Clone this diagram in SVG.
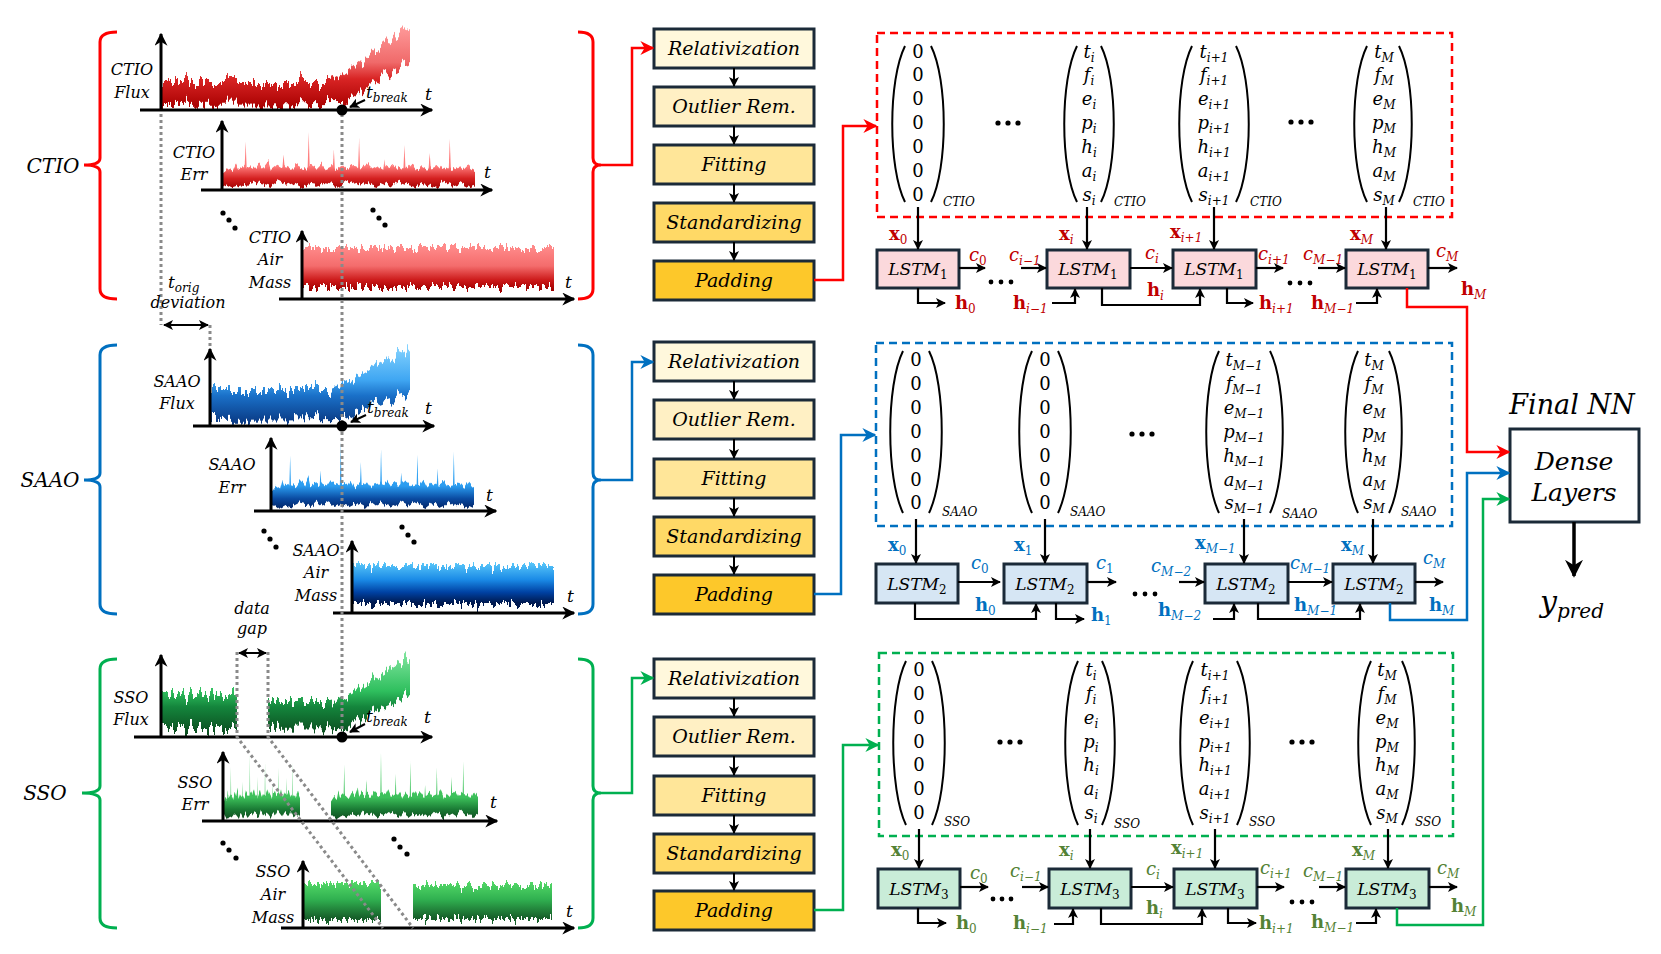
<svg xmlns="http://www.w3.org/2000/svg" xmlns:xlink="http://www.w3.org/1999/xlink" width="1661" height="954" viewBox="0 0 1661 954">
<style>
.t{font-family:"DejaVu Serif","Liberation Serif",serif;font-style:italic;fill:#000}
.lb{font-size:16px;text-anchor:middle}
.big{font-size:20px;text-anchor:middle}
.tt{font-size:17px}
.bx{font-size:19px;text-anchor:middle}
.v{font-size:18px;text-anchor:middle}
.vs{font-size:12px}
.sb{font-size:12px}
.up{font-style:normal}
.ax{stroke:#000;stroke-width:3;fill:none}
.dt{stroke:#8a8a8a;stroke-width:3;stroke-dasharray:3 3;fill:none}
.pb{stroke:#1b2a38;stroke-width:3}
.k{stroke:#000;stroke-width:2.2;fill:none}
.par{stroke:#000;stroke-width:2;fill:none}
.R{fill:#c00000}.B{fill:#0070c0}.G{fill:#548235}
.bf{font-weight:bold;font-style:normal}
.cl{font-size:18px}
.lstm{font-size:17px;text-anchor:middle}
</style>
<defs>
<marker id="ak" viewBox="0 0 10 10" refX="9" refY="5" markerWidth="10" markerHeight="10" markerUnits="userSpaceOnUse" orient="auto-start-reverse"><path d="M0,0 L10,5 L0,10 L2.5,5 z" fill="#000"/></marker>
<marker id="aax" viewBox="0 0 10 10" refX="9" refY="5" markerWidth="13" markerHeight="13" markerUnits="userSpaceOnUse" orient="auto"><path d="M0,0 L10,5 L0,10 L3,5 z" fill="#000"/></marker>
<marker id="ar" viewBox="0 0 10 10" refX="9" refY="5" markerWidth="14" markerHeight="14" markerUnits="userSpaceOnUse" orient="auto"><path d="M0,0 L10,5 L0,10 L3,5 z" fill="#ff0000"/></marker>
<marker id="ab" viewBox="0 0 10 10" refX="9" refY="5" markerWidth="14" markerHeight="14" markerUnits="userSpaceOnUse" orient="auto"><path d="M0,0 L10,5 L0,10 L3,5 z" fill="#0070c0"/></marker>
<marker id="ag" viewBox="0 0 10 10" refX="9" refY="5" markerWidth="14" markerHeight="14" markerUnits="userSpaceOnUse" orient="auto"><path d="M0,0 L10,5 L0,10 L3,5 z" fill="#00b050"/></marker>
<marker id="abig" viewBox="0 0 10 10" refX="9" refY="5" markerWidth="18" markerHeight="18" markerUnits="userSpaceOnUse" orient="auto"><path d="M0,0 L10,5 L0,10 L3,5 z" fill="#000"/></marker>
<linearGradient id="rF" gradientUnits="userSpaceOnUse" x1="0" y1="25" x2="0" y2="108"><stop offset="0" stop-color="#ff9c9c"/><stop offset="0.45" stop-color="#f06a6a"/><stop offset="0.65" stop-color="#d82424"/><stop offset="1" stop-color="#a80000"/></linearGradient>
<linearGradient id="bF" gradientUnits="userSpaceOnUse" x1="0" y1="345" x2="0" y2="423"><stop offset="0" stop-color="#86d4ff"/><stop offset="0.45" stop-color="#3fa6f2"/><stop offset="0.65" stop-color="#1a70c8"/><stop offset="1" stop-color="#0a3a84"/></linearGradient>
<linearGradient id="gF" gradientUnits="userSpaceOnUse" x1="0" y1="655" x2="0" y2="735"><stop offset="0" stop-color="#7be39a"/><stop offset="0.45" stop-color="#2fbf5e"/><stop offset="0.65" stop-color="#14853c"/><stop offset="1" stop-color="#0b4a1e"/></linearGradient>
<linearGradient id="rM" x1="0" y1="0" x2="0" y2="1"><stop offset="0.2" stop-color="#ff8a8a"/><stop offset="0.5" stop-color="#f46c6c"/><stop offset="0.72" stop-color="#cc1a1a"/><stop offset="0.88" stop-color="#a00000"/></linearGradient>
<linearGradient id="bM" x1="0" y1="0" x2="0" y2="1"><stop offset="0.2" stop-color="#5ac8fa"/><stop offset="0.48" stop-color="#1a8ae6"/><stop offset="0.68" stop-color="#0042a4"/><stop offset="0.85" stop-color="#001a50"/></linearGradient>
<linearGradient id="gM" x1="0" y1="0" x2="0" y2="1"><stop offset="0.25" stop-color="#54da68"/><stop offset="0.55" stop-color="#30b050"/><stop offset="0.85" stop-color="#17602a"/></linearGradient>
<linearGradient id="rE" x1="0" y1="0" x2="0" y2="1"><stop offset="0" stop-color="#ff9a9a"/><stop offset="0.7" stop-color="#ff7a7a"/><stop offset="0.86" stop-color="#d42020"/><stop offset="1" stop-color="#a00000"/></linearGradient>
<linearGradient id="bE" x1="0" y1="0" x2="0" y2="1"><stop offset="0" stop-color="#5cc4ff"/><stop offset="0.7" stop-color="#2a9cf0"/><stop offset="0.86" stop-color="#0a4aa0"/><stop offset="1" stop-color="#002060"/></linearGradient>
<linearGradient id="gE" x1="0" y1="0" x2="0" y2="1"><stop offset="0" stop-color="#62e07c"/><stop offset="0.7" stop-color="#3cc05a"/><stop offset="0.86" stop-color="#1a7a34"/><stop offset="1" stop-color="#0f4a1e"/></linearGradient>
<filter id="fz" x="-2%" y="-45%" width="104%" height="190%" color-interpolation-filters="sRGB">
<feTurbulence type="fractalNoise" baseFrequency="0.28 0.006" numOctaves="3" seed="7" result="n"/>
<feColorMatrix in="n" type="matrix" values="0 0 0 0 0.5  0 1 0 0 0  0 0 0 0 0  0 0 0 0 1" result="m"/>
<feDisplacementMap in="SourceGraphic" in2="m" scale="28" xChannelSelector="R" yChannelSelector="G"/>
</filter>
<filter id="fa" x="-2%" y="-45%" width="104%" height="190%" color-interpolation-filters="sRGB">
<feTurbulence type="fractalNoise" baseFrequency="0.35 0.05" numOctaves="3" seed="11" result="n"/>
<feColorMatrix in="n" type="matrix" values="0 0 0 0 0.5  0 1 0 0 0  0 0 0 0 0  0 0 0 0 1" result="m"/>
<feDisplacementMap in="SourceGraphic" in2="m" scale="20" xChannelSelector="R" yChannelSelector="G"/>
</filter>
<filter id="fe" x="-2%" y="-20%" width="104%" height="140%" color-interpolation-filters="sRGB">
<feTurbulence type="fractalNoise" baseFrequency="0.4 0.006" numOctaves="2" seed="3" result="n"/>
<feColorMatrix in="n" type="matrix" values="0 0 0 0 0.5  0 1 0 0 0  0 0 0 0 0  0 0 0 0 1" result="m"/>
<feDisplacementMap in="SourceGraphic" in2="m" scale="10" xChannelSelector="R" yChannelSelector="G"/>
</filter>
<symbol id="nB" viewBox="0 -30 100 42" preserveAspectRatio="none"><path d="M0,0 L2,-3 4,-1 5,-6 6,-2 8,-4 8.6,-3 9,-22 9.4,-3 10,-3 12,-1 14,-5 16,-2 18,-7 19,-1 21,-4 23,-2 23.6,-3 24,-12 24.4,-3 25,-3 27,-1 29,-5 31,-3 33,-2 33.6,-3 34,-30 34.4,-4 35,-4 37,-2 39,-6 41,-1 43,-3 43.6,-3 44,-16 44.4,-2 45,-2 47,-5 49,-1 51,-4 53,-2 53.6,-3 54,-25 54.4,-3 55,-3 57,-6 59,-2 61,-4 63,-1 63.6,-2 64,-10 64.4,-3 65,-3 67,-5 69,-2 71,-3 71.6,-3 72,-20 72.4,-2 73,-2 75,-6 77,-1 79,-4 81,-2 81.6,-3 82,-14 82.4,-3 83,-3 85,-5 87,-1 89,-3 89.6,-3 90,-24 90.4,-2 91,-2 93,-4 95,-1 97,-5 99,-2 100,-1 L100,10 97,12 94,9 91,11 88,8 85,12 82,10 79,9 76,12 73,10 70,8 67,11 64,9 61,12 58,10 55,9 52,11 49,8 46,12 43,10 40,9 37,11 34,10 31,12 28,9 25,11 22,8 19,12 16,10 13,9 10,11 7,10 4,12 1,9 0,10 Z"/></symbol>
<mask id="dm" maskUnits="userSpaceOnUse" x="0" y="0" width="1661" height="954">
<g fill="#fff">
<path filter="url(#fz)" d="M162,82 L330,82 C345,78 370,50 410,26 L410,62 C390,72 365,86 345,104 L162,105 Z"/>
<use href="#nB" x="223" y="132" width="252" height="55" filter="url(#fe)"/>
<rect filter="url(#fa)" x="303" y="248" width="251" height="39"/>
<path filter="url(#fz)" d="M211,389 L330,389 C345,386 372,366 410,347 L410,392 C392,398 365,408 345,418 L211,419 Z"/>
<use href="#nB" x="272" y="442" width="202" height="66" filter="url(#fe)"/>
<rect filter="url(#fa)" x="353" y="566" width="201" height="38"/>
<path filter="url(#fz)" d="M162,695 H237 V729 H162 Z"/>
<path filter="url(#fz)" d="M268,702 L330,702 C345,699 372,678 410,657 L410,693 C392,700 365,712 345,728 L268,729 Z"/>
<use href="#nB" x="224" y="753" width="76" height="65" filter="url(#fe)"/>
<use href="#nB" x="331" y="753" width="147" height="65" filter="url(#fe)"/>
<rect filter="url(#fa)" x="304" y="884" width="77" height="36"/>
<rect filter="url(#fa)" x="413" y="885" width="139" height="34"/>
</g>
</mask>
<clipPath id="cb"><rect x="355" y="700" width="52" height="40"/></clipPath>
</defs>
<rect width="1661" height="954" fill="#fff"/>

<!-- ===== plot data (noisy series) ===== -->
<g id="plot-data" mask="url(#dm)">
<rect x="162" y="12" width="270" height="97" fill="url(#rF)"/>
<rect x="223" y="114" width="270" height="75" fill="url(#rE)"/>
<rect x="303" y="234" width="271" height="64" fill="url(#rM)"/>
<rect x="211" y="333" width="222" height="92" fill="url(#bF)"/>
<rect x="272" y="430" width="224" height="80" fill="url(#bE)"/>
<rect x="353" y="550" width="221" height="62" fill="url(#bM)"/>
<rect x="162" y="642" width="270" height="94" fill="url(#gF)"/>
<rect x="224" y="745" width="273" height="75" fill="url(#gE)"/>
<rect x="304" y="866" width="270" height="61" fill="url(#gM)"/>
</g>

<!-- ===== CTIO ===== -->
<g id="ctio-bracket-left"><path d="M117,32 Q100,32 100,42 L100,158 Q100,165 84,165 Q100,165 100,172 L100,289 Q100,299 117,299" fill="none" stroke="#ff0000" stroke-width="3"/><text class="t big" x="53" y="173">CTIO</text></g>
<g id="ctio-bracket-right"><path d="M578,32 Q593,32 593,42 L593,158 Q593,165 601,165 Q593,165 593,172 L593,289 Q593,299 578,299" fill="none" stroke="#ff0000" stroke-width="3"/></g>
<g id="ctio-flux">
<path class="ax" d="M161,110 V34" marker-end="url(#aax)"/><path class="ax" d="M140,110 H432" marker-end="url(#aax)"/>
<text class="t lb" x="132" y="75">CTIO</text><text class="t lb" x="132" y="98">Flux</text>
<text class="t tt" x="425" y="100">t</text>
<text class="t tt" x="366" y="98">t<tspan class="sb" dy="4">break</tspan></text>
<path d="M365,100 L350,107" stroke="#000" stroke-width="2" marker-end="url(#ak)"/>
</g>
<g id="ctio-err">
<path class="ax" d="M222,190 V121" marker-end="url(#aax)"/><path class="ax" d="M201,190 H492" marker-end="url(#aax)"/>
<text class="t lb" x="194" y="158">CTIO</text><text class="t lb" x="194" y="180">Err</text>
<text class="t tt" x="484" y="178">t</text>
</g>
<g id="ctio-air">
<path class="ax" d="M302,299 V231" marker-end="url(#aax)"/><path class="ax" d="M279,299 H574" marker-end="url(#aax)"/>
<text class="t lb" x="270" y="243">CTIO</text><text class="t lb" x="270" y="265">Air</text><text class="t lb" x="270" y="288">Mass</text>
<text class="t tt" x="565" y="288">t</text>
</g>
<g id="ctio-dots"><circle cx="223" cy="213" r="2.6"/><circle cx="229" cy="220" r="2.6"/><circle cx="235" cy="228" r="2.6"/><circle cx="373" cy="210" r="2.6"/><circle cx="379" cy="218" r="2.6"/><circle cx="385" cy="225" r="2.6"/></g>

<!-- ===== SAAO ===== -->
<g id="saao-bracket-left"><path d="M117,345 Q100,345 100,355 L100,473 Q100,480 84,480 Q100,480 100,487 L100,604 Q100,614 117,614" fill="none" stroke="#0070c0" stroke-width="3"/><text class="t big" x="50" y="487">SAAO</text></g>
<g id="saao-bracket-right"><path d="M578,345 Q593,345 593,355 L593,473 Q593,480 601,480 Q593,480 593,487 L593,604 Q593,614 578,614" fill="none" stroke="#0070c0" stroke-width="3"/></g>
<g id="saao-flux">
<path class="ax" d="M210,426 V349" marker-end="url(#aax)"/><path class="ax" d="M193,426 H434" marker-end="url(#aax)"/>
<text class="t lb" x="177" y="387">SAAO</text><text class="t lb" x="177" y="409">Flux</text>
<text class="t tt" x="425" y="414">t</text>
<text class="t tt" x="367" y="413">t<tspan class="sb" dy="4">break</tspan></text>
<path d="M366,415 L351,422" stroke="#000" stroke-width="2" marker-end="url(#ak)"/>
</g>
<g id="saao-err">
<path class="ax" d="M271,511 V438" marker-end="url(#aax)"/><path class="ax" d="M254,511 H496" marker-end="url(#aax)"/>
<text class="t lb" x="232" y="470">SAAO</text><text class="t lb" x="232" y="493">Err</text>
<text class="t tt" x="486" y="501">t</text>
</g>
<g id="saao-air">
<path class="ax" d="M352,613 V541" marker-end="url(#aax)"/><path class="ax" d="M333,613 H574" marker-end="url(#aax)"/>
<text class="t lb" x="316" y="556">SAAO</text><text class="t lb" x="316" y="578">Air</text><text class="t lb" x="316" y="601">Mass</text>
<text class="t tt" x="567" y="602">t</text>
</g>
<g id="saao-dots"><circle cx="264" cy="531" r="2.6"/><circle cx="270" cy="539" r="2.6"/><circle cx="276" cy="547" r="2.6"/><circle cx="402" cy="527" r="2.6"/><circle cx="408" cy="535" r="2.6"/><circle cx="414" cy="542" r="2.6"/></g>

<!-- ===== SSO ===== -->
<g id="sso-bracket-left"><path d="M117,659 Q100,659 100,669 L100,786 Q100,793 82,793 Q100,793 100,800 L100,918 Q100,928 117,928" fill="none" stroke="#00b050" stroke-width="3"/><text class="t big" x="45" y="800">SSO</text></g>
<g id="sso-bracket-right"><path d="M578,659 Q593,659 593,669 L593,786 Q593,793 601,793 Q593,793 593,800 L593,918 Q593,928 578,928" fill="none" stroke="#00b050" stroke-width="3"/></g>
<g id="sso-flux">
<path class="ax" d="M161,737 V655" marker-end="url(#aax)"/><path class="ax" d="M134,737 H432" marker-end="url(#aax)"/>
<text class="t lb" x="131" y="703">SSO</text><text class="t lb" x="131" y="725">Flux</text>
<text class="t tt" x="424" y="723">t</text>
<text class="t tt" x="366" y="722" clip-path="url(#cb)">t<tspan class="sb" dy="4">break</tspan></text>
<path d="M365,724 L350,732" stroke="#000" stroke-width="2" marker-end="url(#ak)"/>
</g>
<g id="sso-err">
<path class="ax" d="M223,821 V752" marker-end="url(#aax)"/><path class="ax" d="M202,821 H497" marker-end="url(#aax)"/>
<text class="t lb" x="195" y="788">SSO</text><text class="t lb" x="195" y="810">Err</text>
<text class="t tt" x="490" y="808">t</text>
</g>
<g id="sso-air">
<path class="ax" d="M303,928 V861" marker-end="url(#aax)"/><path class="ax" d="M281,928 H574" marker-end="url(#aax)"/>
<text class="t lb" x="273" y="877">SSO</text><text class="t lb" x="273" y="900">Air</text><text class="t lb" x="273" y="923">Mass</text>
<text class="t tt" x="566" y="917">t</text>
</g>
<g id="sso-dots"><circle cx="223" cy="843" r="2.6"/><circle cx="229" cy="850" r="2.6"/><circle cx="236" cy="858" r="2.6"/><circle cx="394" cy="839" r="2.6"/><circle cx="400" cy="847" r="2.6"/><circle cx="407" cy="854" r="2.6"/></g>

<!-- guides -->
<g id="guides">
<path class="dt" d="M161,114 V325"/>
<path class="dt" d="M210,325 V348"/>
<path class="dt" d="M342,114 V737"/>
<path class="dt" d="M237,652 V737 L383,928"/>
<path class="dt" d="M268,652 V737 L413,928"/>
<circle cx="342" cy="110" r="5.5"/><circle cx="342" cy="426" r="5.5"/><circle cx="342" cy="737" r="5.5"/>
<path d="M164,325 H208" stroke="#000" stroke-width="2" marker-start="url(#ak)" marker-end="url(#ak)"/>
<path d="M239,653 H266" stroke="#000" stroke-width="2" marker-start="url(#ak)" marker-end="url(#ak)"/>
<text class="t tt" x="168" y="288">t<tspan class="sb" dy="4">orig</tspan></text>
<text class="t lb" x="188" y="308">deviation</text>
<text class="t lb" x="252" y="614">data</text>
<text class="t lb" x="252" y="634">gap</text>
</g>

<!-- ===== preprocessing boxes ===== -->
<g id="ctio-relativization"><rect class="pb" x="654" y="29" width="160" height="39" fill="#fff8dc"/><text class="t bx" x="734" y="55">Relativization</text></g>
<g id="ctio-outlier"><rect class="pb" x="654" y="87" width="160" height="39" fill="#fff0c4"/><text class="t bx" x="734" y="113">Outlier Rem.</text></g>
<g id="ctio-fitting"><rect class="pb" x="654" y="145" width="160" height="39" fill="#ffe699"/><text class="t bx" x="734" y="171">Fitting</text></g>
<g id="ctio-standardizing"><rect class="pb" x="654" y="203" width="160" height="39" fill="#ffd966"/><text class="t bx" x="734" y="229">Standardizing</text></g>
<g id="ctio-padding"><rect class="pb" x="654" y="261" width="160" height="39" fill="#fdc82a"/><text class="t bx" x="734" y="287">Padding</text></g>

<g id="saao-relativization"><rect class="pb" x="654" y="342" width="160" height="39" fill="#fff8dc"/><text class="t bx" x="734" y="368">Relativization</text></g>
<g id="saao-outlier"><rect class="pb" x="654" y="400" width="160" height="39" fill="#fff0c4"/><text class="t bx" x="734" y="426">Outlier Rem.</text></g>
<g id="saao-fitting"><rect class="pb" x="654" y="459" width="160" height="39" fill="#ffe699"/><text class="t bx" x="734" y="485">Fitting</text></g>
<g id="saao-standardizing"><rect class="pb" x="654" y="517" width="160" height="39" fill="#ffd966"/><text class="t bx" x="734" y="543">Standardizing</text></g>
<g id="saao-padding"><rect class="pb" x="654" y="575" width="160" height="39" fill="#fdc82a"/><text class="t bx" x="734" y="601">Padding</text></g>

<g id="sso-relativization"><rect class="pb" x="654" y="659" width="160" height="39" fill="#fff8dc"/><text class="t bx" x="734" y="685">Relativization</text></g>
<g id="sso-outlier"><rect class="pb" x="654" y="717" width="160" height="39" fill="#fff0c4"/><text class="t bx" x="734" y="743">Outlier Rem.</text></g>
<g id="sso-fitting"><rect class="pb" x="654" y="776" width="160" height="39" fill="#ffe699"/><text class="t bx" x="734" y="802">Fitting</text></g>
<g id="sso-standardizing"><rect class="pb" x="654" y="834" width="160" height="39" fill="#ffd966"/><text class="t bx" x="734" y="860">Standardizing</text></g>
<g id="sso-padding"><rect class="pb" x="654" y="891" width="160" height="39" fill="#fdc82a"/><text class="t bx" x="734" y="917">Padding</text></g>

<!-- ===== dashed input boxes with vectors ===== -->
<g id="ctio-inputs">
<rect x="877" y="33" width="575" height="184" fill="none" stroke="#ff0000" stroke-width="2.5" stroke-dasharray="8 5"/>
<path class="par" d="M905,46 C888,80 888,168 905,202 M931,46 C948,80 948,168 931,202"/>
<g class="t v up"><text x="918" y="58">0</text><text x="918" y="81">0</text><text x="918" y="105">0</text><text x="918" y="129">0</text><text x="918" y="153">0</text><text x="918" y="177">0</text><text x="918" y="201">0</text></g>
<text class="t vs" x="943" y="206">CTIO</text>
<circle cx="998" cy="123" r="2.6"/><circle cx="1008" cy="123" r="2.6"/><circle cx="1018" cy="123" r="2.6"/>
<path class="par" d="M1077,46 C1060,80 1060,168 1077,202 M1101,46 C1118,80 1118,168 1101,202"/>
<g class="t v"><text x="1089" y="58">t<tspan class="sb" dy="4">i</tspan></text><text x="1089" y="81">f<tspan class="sb" dy="4">i</tspan></text><text x="1089" y="105">e<tspan class="sb" dy="4">i</tspan></text><text x="1089" y="129">p<tspan class="sb" dy="4">i</tspan></text><text x="1089" y="153">h<tspan class="sb" dy="4">i</tspan></text><text x="1089" y="177">a<tspan class="sb" dy="4">i</tspan></text><text x="1089" y="201">s<tspan class="sb" dy="4">i</tspan></text></g>
<text class="t vs" x="1114" y="206">CTIO</text>
<path class="par" d="M1192,46 C1175,80 1175,168 1192,202 M1236,46 C1253,80 1253,168 1236,202"/>
<g class="t v"><text x="1214" y="58">t<tspan class="sb" dy="4">i+1</tspan></text><text x="1214" y="81">f<tspan class="sb" dy="4">i+1</tspan></text><text x="1214" y="105">e<tspan class="sb" dy="4">i+1</tspan></text><text x="1214" y="129">p<tspan class="sb" dy="4">i+1</tspan></text><text x="1214" y="153">h<tspan class="sb" dy="4">i+1</tspan></text><text x="1214" y="177">a<tspan class="sb" dy="4">i+1</tspan></text><text x="1214" y="201">s<tspan class="sb" dy="4">i+1</tspan></text></g>
<text class="t vs" x="1250" y="206">CTIO</text>
<circle cx="1291" cy="122" r="2.6"/><circle cx="1301" cy="122" r="2.6"/><circle cx="1311" cy="122" r="2.6"/>
<path class="par" d="M1367,46 C1350,80 1350,168 1367,202 M1399,46 C1416,80 1416,168 1399,202"/>
<g class="t v"><text x="1384" y="58">t<tspan class="sb" dy="4">M</tspan></text><text x="1384" y="81">f<tspan class="sb" dy="4">M</tspan></text><text x="1384" y="105">e<tspan class="sb" dy="4">M</tspan></text><text x="1384" y="129">p<tspan class="sb" dy="4">M</tspan></text><text x="1384" y="153">h<tspan class="sb" dy="4">M</tspan></text><text x="1384" y="177">a<tspan class="sb" dy="4">M</tspan></text><text x="1384" y="201">s<tspan class="sb" dy="4">M</tspan></text></g>
<text class="t vs" x="1413" y="206">CTIO</text>
</g>

<g id="saao-inputs">
<rect x="876" y="343" width="576" height="183" fill="none" stroke="#0070c0" stroke-width="2.5" stroke-dasharray="8 5"/>
<path class="par" d="M903,351 C886,385 886,478 903,513 M929,351 C946,385 946,478 929,513"/>
<g class="t v up"><text x="916" y="366">0</text><text x="916" y="390">0</text><text x="916" y="414">0</text><text x="916" y="438">0</text><text x="916" y="462">0</text><text x="916" y="486">0</text><text x="916" y="509">0</text></g>
<text class="t vs" x="942" y="516">SAAO</text>
<path class="par" d="M1032,351 C1015,385 1015,478 1032,513 M1058,351 C1075,385 1075,478 1058,513"/>
<g class="t v up"><text x="1045" y="366">0</text><text x="1045" y="390">0</text><text x="1045" y="414">0</text><text x="1045" y="438">0</text><text x="1045" y="462">0</text><text x="1045" y="486">0</text><text x="1045" y="509">0</text></g>
<text class="t vs" x="1070" y="516">SAAO</text>
<circle cx="1132" cy="434" r="2.6"/><circle cx="1142" cy="434" r="2.6"/><circle cx="1152" cy="434" r="2.6"/>
<path class="par" d="M1219,351 C1202,385 1202,478 1219,513 M1270,351 C1287,385 1287,478 1270,513"/>
<g class="t v"><text x="1244" y="366">t<tspan class="sb" dy="4">M−1</tspan></text><text x="1244" y="390">f<tspan class="sb" dy="4">M−1</tspan></text><text x="1244" y="414">e<tspan class="sb" dy="4">M−1</tspan></text><text x="1244" y="438">p<tspan class="sb" dy="4">M−1</tspan></text><text x="1244" y="462">h<tspan class="sb" dy="4">M−1</tspan></text><text x="1244" y="486">a<tspan class="sb" dy="4">M−1</tspan></text><text x="1244" y="509">s<tspan class="sb" dy="4">M−1</tspan></text></g>
<text class="t vs" x="1282" y="518">SAAO</text>
<path class="par" d="M1358,351 C1341,385 1341,478 1358,513 M1389,351 C1406,385 1406,478 1389,513"/>
<g class="t v"><text x="1374" y="366">t<tspan class="sb" dy="4">M</tspan></text><text x="1374" y="390">f<tspan class="sb" dy="4">M</tspan></text><text x="1374" y="414">e<tspan class="sb" dy="4">M</tspan></text><text x="1374" y="438">p<tspan class="sb" dy="4">M</tspan></text><text x="1374" y="462">h<tspan class="sb" dy="4">M</tspan></text><text x="1374" y="486">a<tspan class="sb" dy="4">M</tspan></text><text x="1374" y="509">s<tspan class="sb" dy="4">M</tspan></text></g>
<text class="t vs" x="1401" y="516">SAAO</text>
</g>

<g id="sso-inputs">
<rect x="879" y="653" width="574" height="183" fill="none" stroke="#00b050" stroke-width="2.5" stroke-dasharray="8 5"/>
<path class="par" d="M906,661 C889,695 889,790 906,825 M932,661 C949,695 949,790 932,825"/>
<g class="t v up"><text x="919" y="676">0</text><text x="919" y="700">0</text><text x="919" y="724">0</text><text x="919" y="748">0</text><text x="919" y="771">0</text><text x="919" y="795">0</text><text x="919" y="819">0</text></g>
<text class="t vs" x="944" y="826">SSO</text>
<circle cx="1000" cy="742" r="2.6"/><circle cx="1010" cy="742" r="2.6"/><circle cx="1020" cy="742" r="2.6"/>
<path class="par" d="M1078,661 C1061,695 1061,790 1078,825 M1102,661 C1119,695 1119,790 1102,825"/>
<g class="t v"><text x="1091" y="676">t<tspan class="sb" dy="4">i</tspan></text><text x="1091" y="700">f<tspan class="sb" dy="4">i</tspan></text><text x="1091" y="724">e<tspan class="sb" dy="4">i</tspan></text><text x="1091" y="748">p<tspan class="sb" dy="4">i</tspan></text><text x="1091" y="771">h<tspan class="sb" dy="4">i</tspan></text><text x="1091" y="795">a<tspan class="sb" dy="4">i</tspan></text><text x="1091" y="819">s<tspan class="sb" dy="4">i</tspan></text></g>
<text class="t vs" x="1114" y="828">SSO</text>
<path class="par" d="M1193,661 C1176,695 1176,790 1193,825 M1237,661 C1254,695 1254,790 1237,825"/>
<g class="t v"><text x="1215" y="676">t<tspan class="sb" dy="4">i+1</tspan></text><text x="1215" y="700">f<tspan class="sb" dy="4">i+1</tspan></text><text x="1215" y="724">e<tspan class="sb" dy="4">i+1</tspan></text><text x="1215" y="748">p<tspan class="sb" dy="4">i+1</tspan></text><text x="1215" y="771">h<tspan class="sb" dy="4">i+1</tspan></text><text x="1215" y="795">a<tspan class="sb" dy="4">i+1</tspan></text><text x="1215" y="819">s<tspan class="sb" dy="4">i+1</tspan></text></g>
<text class="t vs" x="1249" y="826">SSO</text>
<circle cx="1292" cy="742" r="2.6"/><circle cx="1302" cy="742" r="2.6"/><circle cx="1312" cy="742" r="2.6"/>
<path class="par" d="M1371,661 C1354,695 1354,790 1371,825 M1402,661 C1419,695 1419,790 1402,825"/>
<g class="t v"><text x="1387" y="676">t<tspan class="sb" dy="4">M</tspan></text><text x="1387" y="700">f<tspan class="sb" dy="4">M</tspan></text><text x="1387" y="724">e<tspan class="sb" dy="4">M</tspan></text><text x="1387" y="748">p<tspan class="sb" dy="4">M</tspan></text><text x="1387" y="771">h<tspan class="sb" dy="4">M</tspan></text><text x="1387" y="795">a<tspan class="sb" dy="4">M</tspan></text><text x="1387" y="819">s<tspan class="sb" dy="4">M</tspan></text></g>
<text class="t vs" x="1415" y="826">SSO</text>
</g>

<!-- ===== LSTM cells ===== -->
<g id="lstm1-0"><rect class="pb" x="877" y="250" width="82" height="38" fill="#fbd9dc"/><text class="t lstm" x="918" y="275">LSTM<tspan class="sb up" dy="4">1</tspan></text></g>
<g id="lstm1-i"><rect class="pb" x="1047" y="250" width="83" height="38" fill="#fbd9dc"/><text class="t lstm" x="1088" y="275">LSTM<tspan class="sb up" dy="4">1</tspan></text></g>
<g id="lstm1-i1"><rect class="pb" x="1173" y="250" width="83" height="38" fill="#fbd9dc"/><text class="t lstm" x="1214" y="275">LSTM<tspan class="sb up" dy="4">1</tspan></text></g>
<g id="lstm1-M"><rect class="pb" x="1346" y="250" width="82" height="38" fill="#fbd9dc"/><text class="t lstm" x="1387" y="275">LSTM<tspan class="sb up" dy="4">1</tspan></text></g>

<g id="lstm2-0"><rect class="pb" x="876" y="564" width="82" height="39" fill="#d6e6f4"/><text class="t lstm" x="917" y="590">LSTM<tspan class="sb up" dy="4">2</tspan></text></g>
<g id="lstm2-1"><rect class="pb" x="1004" y="564" width="83" height="39" fill="#d6e6f4"/><text class="t lstm" x="1045" y="590">LSTM<tspan class="sb up" dy="4">2</tspan></text></g>
<g id="lstm2-M1"><rect class="pb" x="1205" y="564" width="83" height="39" fill="#d6e6f4"/><text class="t lstm" x="1246" y="590">LSTM<tspan class="sb up" dy="4">2</tspan></text></g>
<g id="lstm2-M"><rect class="pb" x="1333" y="564" width="82" height="39" fill="#d6e6f4"/><text class="t lstm" x="1374" y="590">LSTM<tspan class="sb up" dy="4">2</tspan></text></g>

<g id="lstm3-0"><rect class="pb" x="878" y="869" width="82" height="39" fill="#c9ecd8"/><text class="t lstm" x="919" y="895">LSTM<tspan class="sb up" dy="4">3</tspan></text></g>
<g id="lstm3-i"><rect class="pb" x="1049" y="869" width="82" height="39" fill="#c9ecd8"/><text class="t lstm" x="1090" y="895">LSTM<tspan class="sb up" dy="4">3</tspan></text></g>
<g id="lstm3-i1"><rect class="pb" x="1174" y="869" width="83" height="39" fill="#c9ecd8"/><text class="t lstm" x="1215" y="895">LSTM<tspan class="sb up" dy="4">3</tspan></text></g>
<g id="lstm3-M"><rect class="pb" x="1346" y="869" width="83" height="39" fill="#c9ecd8"/><text class="t lstm" x="1387" y="895">LSTM<tspan class="sb up" dy="4">3</tspan></text></g>

<!-- ===== Final NN ===== -->
<g id="final-nn">
<text class="t" x="1572" y="414" font-size="27" text-anchor="middle">Final NN</text>
<rect x="1510" y="429" width="129" height="93" fill="#fff" stroke="#1b2a38" stroke-width="3"/>
<text class="t" x="1574" y="470" font-size="25" text-anchor="middle">Dense</text>
<text class="t" x="1574" y="501" font-size="25" text-anchor="middle">Layers</text>
</g>
<g id="ypred"><text class="t" x="1540" y="612" font-size="30">y<tspan font-size="20" dy="6">pred</tspan></text></g>

<!-- ===== connectors ===== -->
<g id="connectors">
<g stroke="#000" stroke-width="2" fill="none" marker-end="url(#ak)">
<path d="M734,68 V86"/><path d="M734,126 V144"/><path d="M734,184 V202"/><path d="M734,242 V260"/>
<path d="M734,381 V399"/><path d="M734,439 V458"/><path d="M734,498 V516"/><path d="M734,556 V574"/>
<path d="M734,698 V716"/><path d="M734,756 V775"/><path d="M734,815 V833"/><path d="M734,873 V890"/>
</g>
<path d="M601,165 H632 V48 H653" fill="none" stroke="#ff0000" stroke-width="2.5" marker-end="url(#ar)"/>
<path d="M814,280 H843 V126 H876" fill="none" stroke="#ff0000" stroke-width="2.5" marker-end="url(#ar)"/>
<path d="M601,480 H632 V362 H653" fill="none" stroke="#0070c0" stroke-width="2.5" marker-end="url(#ab)"/>
<path d="M814,594 H841 V435 H875" fill="none" stroke="#0070c0" stroke-width="2.5" marker-end="url(#ab)"/>
<path d="M601,793 H632 V678 H653" fill="none" stroke="#00b050" stroke-width="2.5" marker-end="url(#ag)"/>
<path d="M814,910 H843 V745 H878" fill="none" stroke="#00b050" stroke-width="2.5" marker-end="url(#ag)"/>
<path d="M1407,288 V307 H1467 V452 H1509" fill="none" stroke="#ff0000" stroke-width="2.5" marker-end="url(#ar)"/>
<path d="M1390,603 V620 H1467 V473 H1509" fill="none" stroke="#0070c0" stroke-width="2.5" marker-end="url(#ab)"/>
<path d="M1397,908 V925 H1483 V499 H1509" fill="none" stroke="#00b050" stroke-width="2.5" marker-end="url(#ag)"/>
<path d="M1574,522 V576" fill="none" stroke="#000" stroke-width="3.5" marker-end="url(#abig)"/>

<g class="k" marker-end="url(#ak)">
<path d="M918,207 V249"/><path d="M1087,207 V249"/><path d="M1214,207 V249"/><path d="M1386,207 V249"/>
<path d="M959,268 H985"/><path d="M1021,268 H1046"/><path d="M1130,268 H1172"/><path d="M1256,268 H1283"/><path d="M1318,268 H1345"/><path d="M1428,268 H1457"/>
<path d="M918,288 V303 H945"/><path d="M1052,303 H1075 V289"/><path d="M1102,288 V305 H1200 V289"/><path d="M1227,288 V303 H1253"/><path d="M1356,303 H1377 V289"/>
</g>
<circle cx="991" cy="282" r="2.4"/><circle cx="1001" cy="282" r="2.4"/><circle cx="1011" cy="282" r="2.4"/>
<circle cx="1290" cy="283" r="2.4"/><circle cx="1300" cy="283" r="2.4"/><circle cx="1310" cy="283" r="2.4"/>
<g class="t R cl">
<text x="889" y="240"><tspan class="bf">x</tspan><tspan class="sb up" dy="4">0</tspan></text>
<text x="1059" y="240"><tspan class="bf">x</tspan><tspan class="sb" dy="4">i</tspan></text>
<text x="1170" y="238"><tspan class="bf">x</tspan><tspan class="sb" dy="4">i+1</tspan></text>
<text x="1350" y="240"><tspan class="bf">x</tspan><tspan class="sb" dy="4">M</tspan></text>
<text x="969" y="261">c<tspan class="sb up" dy="4">0</tspan></text>
<text x="1009" y="261">c<tspan class="sb" dy="4">i−1</tspan></text>
<text x="1145" y="259">c<tspan class="sb" dy="4">i</tspan></text>
<text x="1258" y="260">c<tspan class="sb" dy="4">i+1</tspan></text>
<text x="1303" y="260">c<tspan class="sb" dy="4">M−1</tspan></text>
<text x="1436" y="257">c<tspan class="sb" dy="4">M</tspan></text>
<text x="955" y="309"><tspan class="bf">h</tspan><tspan class="sb up" dy="4">0</tspan></text>
<text x="1013" y="309"><tspan class="bf">h</tspan><tspan class="sb" dy="4">i−1</tspan></text>
<text x="1147" y="296"><tspan class="bf">h</tspan><tspan class="sb" dy="4">i</tspan></text>
<text x="1259" y="309"><tspan class="bf">h</tspan><tspan class="sb" dy="4">i+1</tspan></text>
<text x="1311" y="309"><tspan class="bf">h</tspan><tspan class="sb" dy="4">M−1</tspan></text>
<text x="1461" y="295"><tspan class="bf">h</tspan><tspan class="sb" dy="4">M</tspan></text>
</g>

<g class="k" marker-end="url(#ak)">
<path d="M916,519 V563"/><path d="M1045,519 V563"/><path d="M1244,519 V563"/><path d="M1373,519 V563"/>
<path d="M958,582 H1000"/><path d="M1087,582 H1116"/><path d="M1179,582 H1204"/><path d="M1288,582 H1332"/><path d="M1415,582 H1443"/>
<path d="M915,603 V619 H1036 V604"/><path d="M1056,603 V619 H1084"/><path d="M1213,619 H1234 V604"/><path d="M1258,603 V619 H1360 V604"/>
</g>
<circle cx="1135" cy="594" r="2.4"/><circle cx="1145" cy="594" r="2.4"/><circle cx="1155" cy="594" r="2.4"/>
<g class="t B cl">
<text x="888" y="551"><tspan class="bf">x</tspan><tspan class="sb up" dy="4">0</tspan></text>
<text x="1014" y="551"><tspan class="bf">x</tspan><tspan class="sb up" dy="4">1</tspan></text>
<text x="1195" y="549"><tspan class="bf">x</tspan><tspan class="sb" dy="4">M−1</tspan></text>
<text x="1341" y="551"><tspan class="bf">x</tspan><tspan class="sb" dy="4">M</tspan></text>
<text x="971" y="569">c<tspan class="sb up" dy="4">0</tspan></text>
<text x="1096" y="569">c<tspan class="sb up" dy="4">1</tspan></text>
<text x="1151" y="572">c<tspan class="sb" dy="4">M−2</tspan></text>
<text x="1290" y="569">c<tspan class="sb" dy="4">M−1</tspan></text>
<text x="1423" y="564">c<tspan class="sb" dy="4">M</tspan></text>
<text x="975" y="611"><tspan class="bf">h</tspan><tspan class="sb up" dy="4">0</tspan></text>
<text x="1091" y="621"><tspan class="bf">h</tspan><tspan class="sb up" dy="4">1</tspan></text>
<text x="1158" y="616"><tspan class="bf">h</tspan><tspan class="sb" dy="4">M−2</tspan></text>
<text x="1294" y="611"><tspan class="bf">h</tspan><tspan class="sb" dy="4">M−1</tspan></text>
<text x="1429" y="611"><tspan class="bf">h</tspan><tspan class="sb" dy="4">M</tspan></text>
</g>

<g class="k" marker-end="url(#ak)">
<path d="M919,829 V868"/><path d="M1090,829 V868"/><path d="M1215,829 V868"/><path d="M1388,829 V868"/>
<path d="M960,887 H988"/><path d="M1022,887 H1048"/><path d="M1131,887 H1173"/><path d="M1257,887 H1284"/><path d="M1319,887 H1345"/><path d="M1429,887 H1457"/>
<path d="M918,908 V923 H946"/><path d="M1054,924 H1073 V909"/><path d="M1101,908 V924 H1202 V909"/><path d="M1228,908 V923 H1256"/><path d="M1356,923 H1376 V909"/>
</g>
<circle cx="993" cy="899" r="2.4"/><circle cx="1002" cy="899" r="2.4"/><circle cx="1011" cy="899" r="2.4"/>
<circle cx="1292" cy="902" r="2.4"/><circle cx="1302" cy="902" r="2.4"/><circle cx="1312" cy="902" r="2.4"/>
<g class="t G cl">
<text x="891" y="856"><tspan class="bf">x</tspan><tspan class="sb up" dy="4">0</tspan></text>
<text x="1059" y="856"><tspan class="bf">x</tspan><tspan class="sb" dy="4">i</tspan></text>
<text x="1171" y="854"><tspan class="bf">x</tspan><tspan class="sb" dy="4">i+1</tspan></text>
<text x="1352" y="856"><tspan class="bf">x</tspan><tspan class="sb" dy="4">M</tspan></text>
<text x="970" y="879">c<tspan class="sb up" dy="4">0</tspan></text>
<text x="1010" y="877">c<tspan class="sb" dy="4">i−1</tspan></text>
<text x="1146" y="875">c<tspan class="sb" dy="4">i</tspan></text>
<text x="1260" y="874">c<tspan class="sb" dy="4">i+1</tspan></text>
<text x="1303" y="877">c<tspan class="sb" dy="4">M−1</tspan></text>
<text x="1437" y="874">c<tspan class="sb" dy="4">M</tspan></text>
<text x="956" y="929"><tspan class="bf">h</tspan><tspan class="sb up" dy="4">0</tspan></text>
<text x="1013" y="929"><tspan class="bf">h</tspan><tspan class="sb" dy="4">i−1</tspan></text>
<text x="1146" y="914"><tspan class="bf">h</tspan><tspan class="sb" dy="4">i</tspan></text>
<text x="1259" y="929"><tspan class="bf">h</tspan><tspan class="sb" dy="4">i+1</tspan></text>
<text x="1311" y="928"><tspan class="bf">h</tspan><tspan class="sb" dy="4">M−1</tspan></text>
<text x="1451" y="912"><tspan class="bf">h</tspan><tspan class="sb" dy="4">M</tspan></text>
</g>
</g>
</svg>
